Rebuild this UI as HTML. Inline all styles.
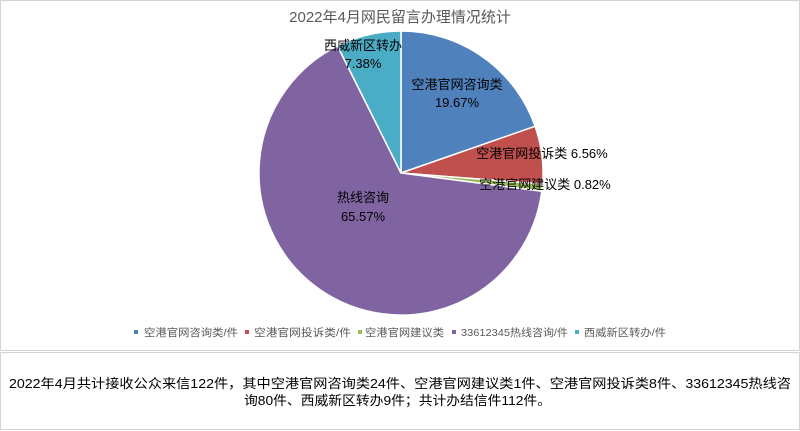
<!DOCTYPE html>
<html><head><meta charset="utf-8"><style>
body{margin:0;width:800px;height:431px;background:#fff;overflow:hidden;font-family:"Liberation Sans","Noto Sans CJK SC",sans-serif}
</style></head><body>
<svg width="800" height="431" xmlns="http://www.w3.org/2000/svg" style="position:absolute;left:0;top:0">
<rect x="0.5" y="0.5" width="799" height="350" fill="#fff" stroke="#d0d4dc"/>
<rect x="0.5" y="352.5" width="799" height="77" fill="#fff" stroke="#d0d4dc"/>
<text x="400" y="22" text-anchor="middle" font-size="15" fill="#595959" font-family="Liberation Sans,Noto Sans CJK SC,sans-serif">2022年4月网民留言办理情况统计</text>
<g stroke="#fff" stroke-width="1.5">
<path d="M401,173 L401,31 A142,142 0 0 1 535.1,126.3 Z" fill="#4f81bd"/>
<path d="M401,173 L535.1,126.3 A142,142 0 0 1 542.6,184 Z" fill="#c0504d"/>
<path d="M401,173 L542.6,184 A142,142 0 0 1 541.8,191.2 Z" fill="#9bbb59"/>
<path d="M401,173 L541.8,191.2 A142,142 0 1 1 337.5,46 Z" fill="#8064a2"/>
<path d="M401,173 L337.5,46 A142,142 0 0 1 401,31 Z" fill="#4bacc6"/>
</g>
<g font-size="13" fill="#000" font-family="Liberation Sans,Noto Sans CJK SC,sans-serif" text-anchor="middle">
<text x="457" y="89">空港官网咨询类</text><text x="457" y="107">19.67%</text>
<text x="542" y="158">空港官网投诉类 6.56%</text>
<text x="545" y="189">空港官网建议类 0.82%</text>
<text x="363" y="50">西威新区转办</text><text x="363" y="68">7.38%</text>
<text x="363" y="202">热线咨询</text><text x="363" y="221">65.57%</text>
</g>
<g font-size="10.5" fill="#595959" font-family="Liberation Sans,Noto Sans CJK SC,sans-serif">
<rect x="134" y="330" width="4" height="4" fill="#4f81bd"/><text x="144" y="336" textLength="94" lengthAdjust="spacingAndGlyphs">空港官网咨询类/件</text>
<rect x="245" y="330" width="4" height="4" fill="#c0504d"/><text x="254" y="336" textLength="97" lengthAdjust="spacingAndGlyphs">空港官网投诉类/件</text>
<rect x="358" y="330" width="4" height="4" fill="#9bbb59"/><text x="365" y="336" textLength="79" lengthAdjust="spacingAndGlyphs">空港官网建议类</text>
<rect x="452" y="330" width="4" height="4" fill="#8064a2"/><text x="461" y="336" textLength="107" lengthAdjust="spacingAndGlyphs">33612345热线咨询/件</text>
<rect x="575" y="330" width="4" height="4" fill="#4bacc6"/><text x="584" y="336" textLength="82" lengthAdjust="spacingAndGlyphs">西威新区转办/件</text>
</g>
<g font-size="13" fill="#000" font-family="Liberation Sans,Noto Sans CJK SC,sans-serif">
<text x="9" y="388" textLength="782" lengthAdjust="spacingAndGlyphs">2022年4月共计接收公众来信122件，其中空港官网咨询类24件、空港官网建议类1件、空港官网投诉类8件、33612345热线咨</text>
<text x="244" y="405" textLength="307" lengthAdjust="spacingAndGlyphs">询80件、西威新区转办9件；共计办结信件112件。</text>
</g>
</svg>
</body></html>
